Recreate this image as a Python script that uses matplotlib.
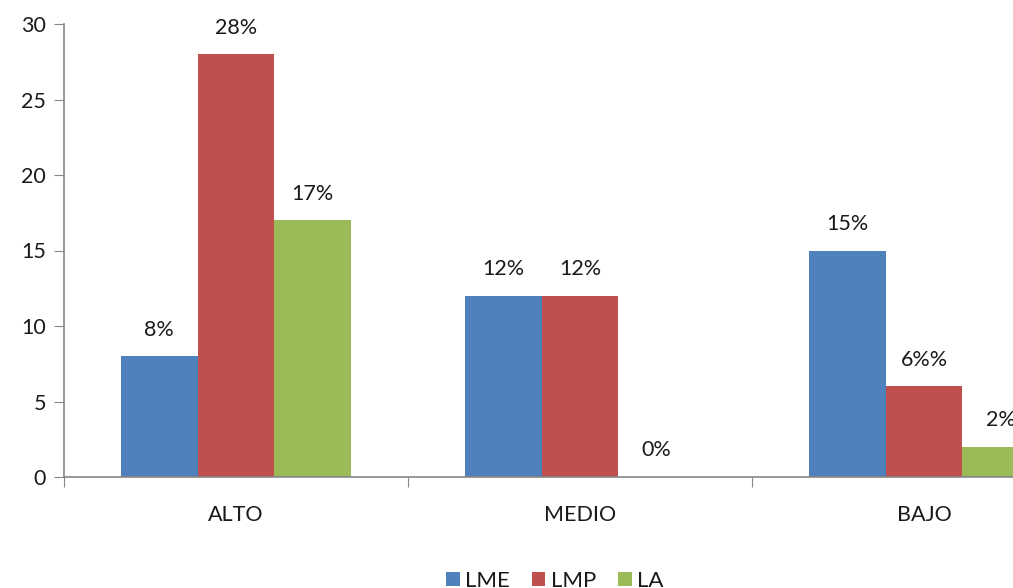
import matplotlib
matplotlib.use("Agg")
import matplotlib.pyplot as plt
import numpy as np

categories = ["ALTO", "MEDIO", "BAJO"]
series = ["LME", "LMP", "LA"]
lme = [8, 12, 15]
lmp = [28, 12, 6]
la = [17, 0, 2]
bar_labels = [["8%", "12%", "15%"],
              ["28%", "12%", "6%%"],
              ["17%", "0%", "2%"]]
colors = ["#4F81BD", "#C0504D", "#9BBB59"]

plt.rcParams['font.family'] = ['Lato', 'DejaVu Sans']

fig = plt.figure(figsize=(10.13, 5.88), dpi=100)
# plot area runs past the right edge of the canvas
ax = fig.add_axes([64 / 1013, 111 / 588, 1032 / 1013, 453 / 588])

x = np.arange(len(categories))
width = 0.223
for i, (vals, col) in enumerate(zip([lme, lmp, la], colors)):
    pos = x + (i - 1) * width
    bars = ax.bar(pos, vals, width, color=col, label=series[i])
    for b, txt in zip(bars, bar_labels[i]):
        ax.annotate(txt, (b.get_x() + b.get_width() / 2, b.get_height()),
                    xytext=(0, 12), textcoords="offset points",
                    ha="center", va="bottom", fontsize=15.5, color="#1a1a1a")

ax.set_xlim(-0.5, 2.5)
ax.set_ylim(0, 30)
ax.set_yticks(range(0, 31, 5))
ax.set_xticks([-0.5, 0.5, 1.5, 2.5])
ax.set_xticklabels([])
ax.set_xticks(x, minor=True)
ax.set_xticklabels(categories, minor=True)
ax.tick_params(axis="x", which="minor", length=0, pad=20, labelsize=15.5,
               labelcolor="#1a1a1a")
ax.tick_params(axis="x", which="major", length=7, color="#868686", direction="out")
ax.tick_params(axis="y", length=7, color="#868686", labelsize=15.5, pad=6,
               labelcolor="#1a1a1a")

for s in ["top", "right"]:
    ax.spines[s].set_visible(False)
for s in ["left", "bottom"]:
    ax.spines[s].set_color("#868686")
    ax.spines[s].set_linewidth(1.2)

fig.legend(loc="center", bbox_to_anchor=(555 / 1013, 1 - 581 / 588),
           ncol=3, frameon=False, fontsize=16, handlelength=0.6,
           handleheight=0.6, handletextpad=0.25, columnspacing=1.0,
           labelcolor="#1a1a1a")

fig.savefig("out.png", dpi=100)
